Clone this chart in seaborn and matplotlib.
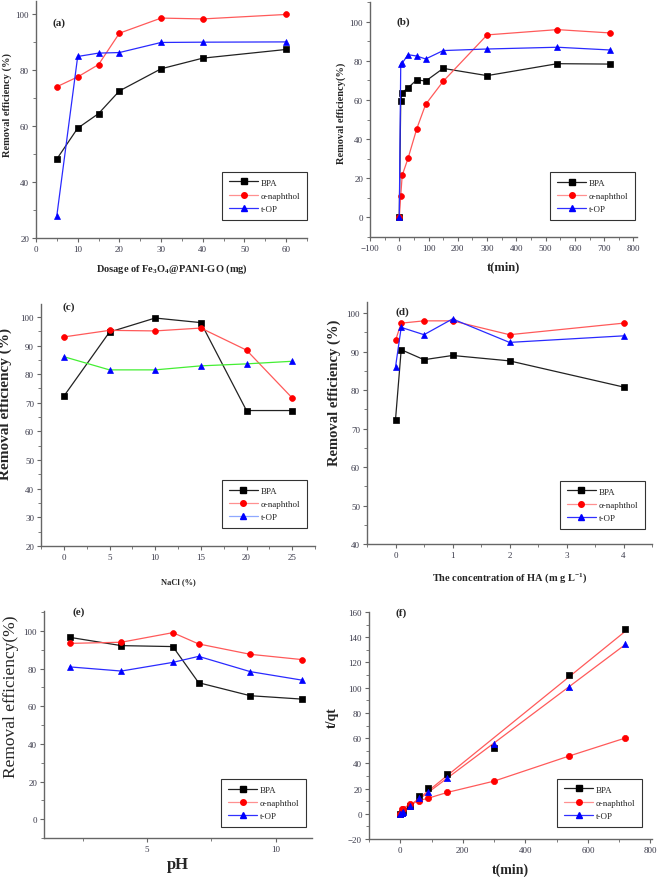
import matplotlib
matplotlib.use("Agg")
import matplotlib.pyplot as plt
from matplotlib.lines import Line2D
from matplotlib.ticker import AutoMinorLocator, MultipleLocator
import numpy as np
import pandas as pd
import seaborn as sns

sns.set_style("ticks")
plt.rcParams['font.family'] = ['Liberation Serif', 'DejaVu Serif']
plt.rcParams['mathtext.default'] = 'regular'

names = ['BPA', 'α-naphthol', 't-OP']

# (a) dosage
dose = [5, 10, 15, 20, 30, 40, 60]
a_bpa = [48.2, 59.2, 64.4, 72.5, 80.4, 84.2, 87.3]
a_nap = [74.0, 77.5, 81.9, 93.1, 98.5, 98.2, 99.8]
a_top = [28.0, 84.8, 86.0, 86.2, 89.8, 89.9, 90.0]

# (b) contact time
time_b = [0, 5, 10, 30, 60, 90, 150, 300, 540, 720]
b_bpa = [0, 59.6, 63.7, 66.2, 70.3, 69.6, 76.1, 72.4, 78.5, 78.3]
b_nap = [0, 11.1, 21.5, 30.2, 45.4, 57.7, 69.5, 93.2, 95.9, 94.2]
b_top = [0, 78.2, 78.8, 83.1, 82.4, 80.9, 85.2, 86.0, 86.9, 85.5]

# (c) NaCl
nacl = [0, 5, 10, 15, 20, 25]
c_bpa = [72.3, 94.7, 99.6, 98.0, 67.3, 67.3]
c_nap = [93.0, 95.3, 95.1, 96.1, 88.4, 71.7]
c_top = [86.1, 81.5, 81.5, 82.9, 83.6, 84.5]

# (d) humic acid
ha = [0, 0.1, 0.5, 1, 2, 4]
d_bpa = [72.3, 90.5, 87.9, 89.0, 87.6, 80.8]
d_nap = [92.9, 97.4, 98.0, 98.0, 94.4, 97.4]
d_top = [86.0, 96.3, 94.4, 98.5, 92.4, 94.1]

# (e) pH
ph = [2, 4, 6, 7, 9, 11]
e_bpa = [96.6, 92.2, 91.7, 72.5, 65.6, 63.8]
e_nap = [93.4, 94.0, 99.1, 93.1, 87.6, 84.8]
e_top = [80.9, 78.7, 83.3, 86.5, 78.4, 73.9]

# (f) pseudo-second-order t/qt
time_f = [0, 5, 10, 30, 60, 90, 150, 300, 540, 720]
f_bpa = [0, 1.0, 2.0, 6.4, 13.8, 20.6, 31.8, 52.1, 109.8, 146.6]
f_nap = [0, 3.8, 4.0, 7.7, 10.5, 12.4, 16.9, 25.9, 45.8, 60.1]
f_top = [0, 0.8, 1.6, 6.4, 12.7, 17.0, 28.6, 55.6, 100.3, 134.7]

line_cols = ['#222222', '#ff5a5a', '#2a2aff']
mark_cols = ['black', 'red', 'blue']
markers = ['s', 'o', '^']
tick_col = '#3a3a4a'

W, H = 660, 878
fig = plt.figure(figsize=(6.6, 8.78), dpi=100)


def make_ax(l, t, r, b):
    return fig.add_axes([l / W, 1 - b / H, (r - l) / W, (b - t) / H])


def style(ax, xlim, ylim, xmaj, ymaj, xmin=2, ymin=2, fs=6.5):
    ax.set_xlim(*xlim)
    ax.set_ylim(*ylim)
    ax.xaxis.set_major_locator(MultipleLocator(xmaj))
    ax.yaxis.set_major_locator(MultipleLocator(ymaj))
    ax.xaxis.set_minor_locator(AutoMinorLocator(xmin))
    ax.yaxis.set_minor_locator(AutoMinorLocator(ymin))
    sns.despine(ax=ax)
    for s in ['left', 'bottom']:
        ax.spines[s].set_color('#666666')
        ax.spines[s].set_linewidth(1.0)
    ax.tick_params(which='major', direction='out', length=3, width=0.8,
                   color='#666666', labelsize=fs, labelcolor=tick_col, pad=2)
    ax.tick_params(which='minor', direction='out', length=2, width=0.6,
                   color='#666666')


def draw(ax, x, ys, lcols=line_cols):
    for y, lc, mc, mk in zip(ys, lcols, mark_cols, markers):
        df = pd.DataFrame({'x': x, 'y': y})
        sns.lineplot(data=df, x='x', y='y', ax=ax, color=lc, linewidth=0.9,
                     marker=mk, markersize=4.2, markerfacecolor=mc,
                     markeredgecolor=mc, markeredgewidth=0.5, sort=False)


def legend(ax, anchor, lcols=('#222222', '#ff9090', '#3030ff')):
    hs = [Line2D([], [], color=lc, lw=0.9, marker=mk, markersize=4,
                 markerfacecolor=mc, markeredgecolor=mc)
          for lc, mc, mk in zip(lcols, mark_cols, markers)]
    lg = ax.legend(hs, names, loc='lower right', bbox_to_anchor=anchor,
                   frameon=True, fancybox=False, edgecolor='black',
                   fontsize=6.5, handlelength=3.2, labelspacing=0.55,
                   borderpad=0.75, handletextpad=0.3, borderaxespad=0)
    lg.get_frame().set_linewidth(0.8)


def panel_label(ax, txt, x, y):
    ax.text(x, y, txt, transform=ax.transAxes, fontsize=8, fontweight='bold',
            ha='left', va='center')


# (a)
ax = make_ax(36, 2, 307, 239)
draw(ax, dose, [a_bpa, a_nap, a_top])
style(ax, (0, 65), (20, 104.6), 10, 20)
ax.set_xlabel('Dosage of Fe$_3$O$_4$@PANI-GO (mg)', fontsize=7.5,
              fontweight='bold', labelpad=6)
ax.set_ylabel('Removal efficiency (%)', fontsize=7.5, fontweight='bold')
ax.yaxis.set_label_coords(-0.089, 0.565)
legend(ax, (1.0, 0.076))
panel_label(ax, '(a)', 0.06, 0.91)

# (b)
ax = make_ax(370, 3, 637, 238)
draw(ax, time_b, [b_bpa, b_nap, b_top])
style(ax, (-100, 812), (-10, 110), 100, 20)
ax.set_xlabel('t(min)', fontsize=9, fontweight='bold', labelpad=6)
ax.set_ylabel('Removal efficiency(%)', fontsize=7.5, fontweight='bold')
ax.yaxis.set_label_coords(-0.09, 0.53)
legend(ax, (0.993, 0.072))
panel_label(ax, '(b)', 0.10, 0.92)

# (c)
ax = make_ax(41, 305, 315, 547)
draw(ax, nacl, [c_bpa, c_nap, c_top],
     lcols=['#222222', '#ff5a5a', '#44ee33'])
style(ax, (-2.5, 27.5), (20, 104.5), 5, 10)
ax.set_xlabel('NaCl (%)', fontsize=6, fontweight='bold', labelpad=12)
ax.set_ylabel('Removal efficiency (%)', fontsize=11, fontweight='bold')
ax.yaxis.set_label_coords(-0.106, 0.59)
legend(ax, (0.97, 0.074), lcols=('#222222', '#ff9090', '#8fa8ff'))
panel_label(ax, '(c)', 0.077, 0.99)

# (d)
ax = make_ax(367, 303, 652, 545)
draw(ax, ha, [d_bpa, d_nap, d_top])
style(ax, (-0.5, 4.5), (40, 102.9), 1, 10)
ax.set_xlabel('The concentration of HA (m g L$^{-1}$)', fontsize=7.5,
              fontweight='bold', labelpad=8)
ax.set_ylabel('Removal efficiency (%)', fontsize=10.5, fontweight='bold')
ax.yaxis.set_label_coords(-0.09, 0.63)
legend(ax, (0.975, 0.062))
panel_label(ax, '(d)', 0.10, 0.96)

# (e)
ax = make_ax(44, 612, 312, 839)
draw(ax, ph, [e_bpa, e_nap, e_top])
style(ax, (1, 11.4), (-10, 110.6), 5, 20)
ax.set_xlabel('pH', fontsize=12, fontweight='bold', labelpad=2)
ax.set_ylabel('Removal efficiency(%)', fontsize=12.5)
ax.yaxis.set_label_coords(-0.093, 0.625)
legend(ax, (0.978, 0.048))
panel_label(ax, '(e)', 0.108, 1.0)

# (f)
ax = make_ax(369, 613, 652, 840)
for y, mc, mk in zip([f_bpa, f_nap, f_top], mark_cols, markers):
    df = pd.DataFrame({'x': time_f, 'y': y})
    if mc == 'red':
        sns.lineplot(data=df, x='x', y='y', ax=ax, color='#ff5a5a',
                     linewidth=0.9, sort=False)
    else:
        sns.regplot(data=df, x='x', y='y', ax=ax, scatter=False, ci=None,
                    color='#ff5a5a', line_kws={'linewidth': 0.9})
    sns.scatterplot(data=df, x='x', y='y', ax=ax, color=mc, marker=mk,
                    s=20, edgecolor=mc, linewidth=0.5, zorder=3)
style(ax, (-100, 805), (-20, 160), 200, 20)
ax.set_xlabel('t(min)', fontsize=10, fontweight='bold', labelpad=6)
ax.set_ylabel('t/qt', fontsize=10, fontweight='bold')
ax.yaxis.set_label_coords(-0.106, 0.54)
legend(ax, (0.965, 0.053))
panel_label(ax, '(f)', 0.095, 1.0)

fig.savefig('out.png', dpi=100)
